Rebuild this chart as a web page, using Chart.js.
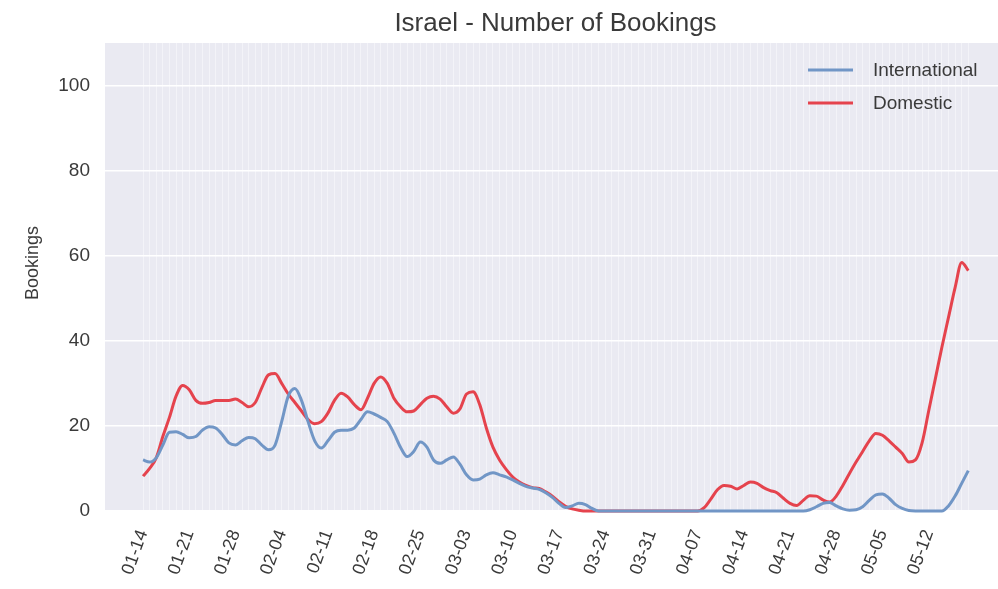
<!DOCTYPE html>
<html>
<head>
<meta charset="utf-8">
<script src="https://cdn.jsdelivr.net/npm/chart.js@4.4.0/dist/chart.umd.min.js"></script>
<style>
html, body { margin: 0; padding: 0; background: #fff; overflow: hidden; }
</style>
</head>
<body>
<canvas id="bookingsGraph" width="998" height="589"></canvas>
<script>
//data section

const chartTitle = 'Israel - Number of Bookings';
const yTitle = 'Bookings';
const seriesNames = ['International', 'Domestic'];
// one label per week, the series below are daily from 01-14
const tickLabels = ['01-14', '01-21', '01-28', '02-04', '02-11', '02-18', '02-25', '03-03', '03-10',
    '03-17', '03-24', '03-31', '04-07', '04-14', '04-21', '04-28', '05-05', '05-12'];
const yTicks = [0, 20, 40, 60, 80, 100];

const international = [
    12, 11.5, 12.5, 15.5, 18.5, 18.6, 18, 17.2, 17.5, 19,
    19.8, 19.5, 18, 16, 15.5, 16.5, 17.3, 17, 15.5, 14.4,
    15.5, 21, 27, 28.8, 26, 21, 16.5, 14.8, 16.5, 18.5,
    19, 19, 19.5, 21.5, 23.3, 22.8, 22, 21, 18.3, 15,
    12.8, 14, 16.2, 15, 12, 11.2, 12, 12.7, 11, 8.5,
    7.3, 7.5, 8.5, 9, 8.5, 8, 7.3, 6.5, 5.8, 5.4,
    5.1, 4.3, 3.2, 1.8, 0.8, 1.2, 1.8, 1.5, 0.6, 0,
    0, 0, 0, 0, 0, 0, 0, 0, 0, 0,
    0, 0, 0, 0, 0, 0, 0, 0, 0, 0,
    0, 0, 0, 0, 0, 0, 0, 0, 0, 0,
    0, 0.3, 1, 1.8, 2, 1.2, 0.5, 0.2, 0.3, 1,
    2.5, 3.8, 4, 3, 1.5, 0.6, 0.1, 0, 0, 0,
    0, 0, 1.2, 3.5, 6.5, 9.5
];

const domestic = [
    8.2, 10, 12.5, 17.5, 22, 27, 29.5, 28.5, 26, 25.3,
    25.5, 26, 26, 26, 26.3, 25.5, 24.5, 25.5, 29, 32,
    32.3, 30, 27.5, 25.5, 23.5, 21.5, 20.5, 21, 23, 26,
    27.7, 26.8, 25, 23.8, 26.5, 30, 31.5, 30, 26.5, 24.5,
    23.3, 23.5, 25, 26.5, 27, 26.3, 24.5, 23, 24, 27.5,
    28, 25, 19.5, 15, 12, 9.8, 8, 6.8, 6, 5.5,
    5.3, 4.5, 3.5, 2.2, 1.1, 0.5, 0.2, 0, 0, 0,
    0, 0, 0, 0, 0, 0, 0, 0, 0, 0,
    0, 0, 0, 0, 0, 0.8, 2.8, 5, 6, 5.8,
    5.2, 6, 6.8, 6.5, 5.5, 4.8, 4.3, 3, 1.8, 1.3,
    2.5, 3.6, 3.5, 2.6, 2.1, 3.5, 6, 8.8, 11.5, 14,
    16.5, 18.2, 17.8, 16.5, 15, 13.5, 11.5, 12, 16, 23.5,
    31, 38.5, 45.5, 52.5, 58.4, 56.5
];

//style section
const blue = '#7196c6';
const red = '#e5434d';
const textColor = '#3a3a3a';
const fontFamily = '"Liberation Sans", Arial, sans-serif';

//grey plot area like seaborn darkgrid
const plotBackground = {
    id: 'plotBackground',
    beforeDraw(chart) {
        const {ctx, chartArea: a} = chart;
        ctx.save();
        ctx.fillStyle = '#eaeaf2';
        ctx.fillRect(a.left, a.top, a.right - a.left, a.bottom - a.top);
        ctx.restore();
    }
};

//title, y axis title and legend inside the plot (top right)
const titleAndLegend = {
    id: 'titleAndLegend',
    afterDraw(chart) {
        const {ctx, chartArea: a} = chart;
        ctx.save();
        ctx.fillStyle = textColor;
        ctx.font = '26px ' + fontFamily;
        ctx.textAlign = 'center';
        ctx.textBaseline = 'alphabetic';
        ctx.fillText(chartTitle, (a.left + a.right) / 2 + 4, a.top - 12);

        // y title sits a bit above the middle of the axis in the picture
        ctx.save();
        ctx.translate(33, a.top + (a.bottom - a.top) * 0.47);
        ctx.rotate(-Math.PI / 2);
        ctx.font = '18px ' + fontFamily;
        ctx.textBaseline = 'middle';
        ctx.fillText(yTitle, 0, 0);
        ctx.restore();

        ctx.font = '19px ' + fontFamily;
        ctx.textAlign = 'left';
        ctx.textBaseline = 'middle';
        chart.data.datasets.forEach((ds, i) => {
            const y = a.top + 27 + i * 33;
            ctx.strokeStyle = ds.borderColor;
            ctx.lineWidth = 3;
            ctx.beginPath();
            ctx.moveTo(a.right - 190, y);
            ctx.lineTo(a.right - 145, y);
            ctx.stroke();
            ctx.fillStyle = textColor;
            ctx.fillText(ds.label, a.right - 125, y + 1);
        });
        ctx.restore();
    }
};

//bookings graph
const bookingsGraph = () => {
    const ctx = document.getElementById('bookingsGraph').getContext('2d');
    const chart = new Chart(ctx, {
        type: 'line',
        data: {
            datasets: [{
                label: seriesNames[0],
                borderColor: blue,
                data: international.map((v, i) => ({x: i, y: v}))
            }, {
                label: seriesNames[1],
                borderColor: red,
                data: domestic.map((v, i) => ({x: i, y: v}))
            }]
        },
        options: {
            responsive: false,
            animation: false,
            clip: 4,
            elements: {
                line: {borderWidth: 3, cubicInterpolationMode: 'monotone', fill: false},
                point: {radius: 0}
            },
            layout: {
                padding: {left: 0, right: 0, top: 43, bottom: 0}
            },
            plugins: {
                legend: {display: false},
                title: {display: false},
                tooltip: {enabled: false}
            },
            scales: {
                x: {
                    type: 'linear',
                    min: -5.76,
                    max: 129.5,
                    afterBuildTicks: s => { s.ticks = domestic.map((v, i) => ({value: i})); },
                    afterFit: s => {
                        s.height = 78;
                        // plot runs to the right edge of the picture
                        s.paddingLeft = 0;
                        s.paddingRight = 0;
                    },
                    grid: {color: 'rgba(255,255,255,0.45)', lineWidth: 1, drawTicks: false},
                    border: {display: false},
                    ticks: {
                        autoSkip: false,
                        minRotation: 70,
                        maxRotation: 70,
                        padding: 16,
                        color: textColor,
                        font: {family: fontFamily, size: 18},
                        callback: v => (v % 7 === 0 ? tickLabels[v / 7] : '')
                    }
                },
                y: {
                    min: 0,
                    max: 110,
                    afterBuildTicks: s => { s.ticks = yTicks.map(v => ({value: v})); },
                    afterFit: s => { s.width = 105; },
                    grid: {color: '#ffffff', lineWidth: 1.5, drawTicks: false},
                    border: {display: false},
                    ticks: {
                        padding: 15,
                        color: textColor,
                        font: {family: fontFamily, size: 19}
                    }
                }
            }
        },
        plugins: [plotBackground, titleAndLegend]
    });
};

bookingsGraph()
</script>
</body>
</html>
